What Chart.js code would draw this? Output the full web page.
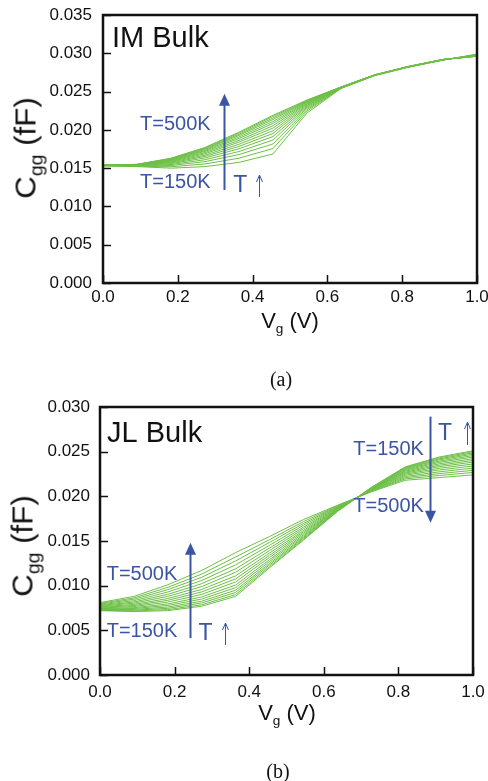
<!DOCTYPE html>
<html>
<head>
<meta charset="utf-8">
<script src="https://cdn.jsdelivr.net/npm/chart.js@4.4.1/dist/chart.umd.min.js"></script>
<style>
  html, body { margin: 0; padding: 0; background: #fff; }
  #page { position: relative; width: 488px; height: 781px; overflow: hidden; font-family: "Liberation Sans", Arial, sans-serif; color: #111; }
  canvas { position: absolute; left: 0; }
  .lbl { position: absolute; white-space: nowrap; line-height: 1; transform: translate(-50%, -50%); }
  .ytitle { font-size: 29px; transform: translate(-50%, -50%) rotate(-90deg) scaleX(1.08); }
  .xtitle { font-size: 22px; }
  .cap { font-family: "Liberation Serif", "Times New Roman", serif; font-size: 20px; }
  sub { font-size: 0.62em; vertical-align: -0.4em; line-height: 0; }
</style>
</head>
<body>
<div id="page">
  <canvas id="im" width="488" height="310" style="top:0"></canvas>
  <canvas id="jl" width="488" height="310" style="top:392px"></canvas>

  <div class="lbl ytitle" style="left:26px; top:148px">C<sub>gg</sub> (fF)</div>
  <div class="lbl xtitle" style="left:290px; top:321px">V<sub>g</sub> (V)</div>
  <div class="lbl cap" style="left:281px; top:379px">(a)</div>

  <div class="lbl ytitle" style="left:23px; top:546px">C<sub>gg</sub> (fF)</div>
  <div class="lbl xtitle" style="left:287px; top:713px">V<sub>g</sub> (V)</div>
  <div class="lbl cap" style="left:278px; top:771px">(b)</div>
</div>

<script>
"use strict";

// Gate voltage sweep points (V)
const vg = [0, 0.0909, 0.1818, 0.2727, 0.3636, 0.4545, 0.5455, 0.6364, 0.7273, 0.8182, 0.9091, 1.0];

// One curve per temperature, 150K .. 500K
const temps = [150, 175, 200, 225, 250, 275, 300, 325, 350, 375, 400, 425, 450, 475, 500];

// IM bulk: Cgg (fF), rows follow temps
const imCgg = [
  [0.01530, 0.01520, 0.01500, 0.01520, 0.01575, 0.01685, 0.02220, 0.02540, 0.02710, 0.02820, 0.02910, 0.02990],
  [0.01531, 0.01524, 0.01518, 0.01555, 0.01630, 0.01756, 0.02244, 0.02543, 0.02711, 0.02821, 0.02911, 0.02986],
  [0.01533, 0.01528, 0.01534, 0.01585, 0.01678, 0.01816, 0.02264, 0.02545, 0.02713, 0.02823, 0.02913, 0.02982],
  [0.01534, 0.01531, 0.01547, 0.01610, 0.01717, 0.01867, 0.02281, 0.02547, 0.02714, 0.02824, 0.02914, 0.02979],
  [0.01535, 0.01534, 0.01559, 0.01633, 0.01753, 0.01912, 0.02297, 0.02549, 0.02715, 0.02825, 0.02915, 0.02977],
  [0.01535, 0.01536, 0.01569, 0.01653, 0.01784, 0.01953, 0.02310, 0.02551, 0.02715, 0.02825, 0.02915, 0.02974],
  [0.01536, 0.01538, 0.01578, 0.01670, 0.01812, 0.01988, 0.02322, 0.02552, 0.02716, 0.02826, 0.02916, 0.02972],
  [0.01537, 0.01540, 0.01587, 0.01688, 0.01840, 0.02023, 0.02334, 0.02553, 0.02717, 0.02827, 0.02917, 0.02970],
  [0.01537, 0.01542, 0.01595, 0.01703, 0.01863, 0.02054, 0.02344, 0.02555, 0.02717, 0.02827, 0.02917, 0.02968],
  [0.01538, 0.01544, 0.01603, 0.01718, 0.01887, 0.02084, 0.02354, 0.02556, 0.02718, 0.02828, 0.02918, 0.02966],
  [0.01538, 0.01545, 0.01609, 0.01730, 0.01907, 0.02109, 0.02363, 0.02557, 0.02718, 0.02828, 0.02918, 0.02965],
  [0.01539, 0.01547, 0.01616, 0.01743, 0.01927, 0.02135, 0.02371, 0.02558, 0.02719, 0.02829, 0.02919, 0.02963],
  [0.01539, 0.01548, 0.01621, 0.01753, 0.01942, 0.02155, 0.02378, 0.02559, 0.02719, 0.02829, 0.02919, 0.02962],
  [0.01540, 0.01549, 0.01626, 0.01763, 0.01958, 0.02175, 0.02385, 0.02559, 0.02720, 0.02830, 0.02920, 0.02961],
  [0.01540, 0.01550, 0.01630, 0.01770, 0.01970, 0.02190, 0.02390, 0.02560, 0.02720, 0.02830, 0.02920, 0.02960],
];

// JL bulk: Cgg (fF), rows follow temps
const jlCgg = [
  [0.00720, 0.00710, 0.00720, 0.00770, 0.00880, 0.01200, 0.01510, 0.01830, 0.02100, 0.02330, 0.02440, 0.02510],
  [0.00724, 0.00717, 0.00732, 0.00786, 0.00900, 0.01214, 0.01519, 0.01833, 0.02098, 0.02324, 0.02431, 0.02499],
  [0.00728, 0.00725, 0.00746, 0.00806, 0.00924, 0.01232, 0.01531, 0.01836, 0.02096, 0.02317, 0.02419, 0.02486],
  [0.00733, 0.00734, 0.00761, 0.00826, 0.00949, 0.01249, 0.01542, 0.01840, 0.02093, 0.02309, 0.02408, 0.02472],
  [0.00738, 0.00744, 0.00778, 0.00850, 0.00978, 0.01270, 0.01556, 0.01844, 0.02090, 0.02300, 0.02394, 0.02456],
  [0.00743, 0.00754, 0.00795, 0.00874, 0.01007, 0.01291, 0.01570, 0.01848, 0.02087, 0.02291, 0.02380, 0.02440],
  [0.00750, 0.00766, 0.00816, 0.00902, 0.01042, 0.01316, 0.01586, 0.01853, 0.02084, 0.02281, 0.02364, 0.02421],
  [0.00756, 0.00778, 0.00836, 0.00930, 0.01076, 0.01340, 0.01602, 0.01858, 0.02080, 0.02270, 0.02348, 0.02402],
  [0.00762, 0.00790, 0.00856, 0.00958, 0.01110, 0.01365, 0.01618, 0.01863, 0.02077, 0.02260, 0.02332, 0.02383],
  [0.00770, 0.00804, 0.00880, 0.00990, 0.01150, 0.01393, 0.01637, 0.01869, 0.02073, 0.02248, 0.02314, 0.02362],
  [0.00777, 0.00817, 0.00903, 0.01022, 0.01189, 0.01421, 0.01655, 0.01874, 0.02069, 0.02236, 0.02295, 0.02340],
  [0.00785, 0.00832, 0.00929, 0.01058, 0.01233, 0.01452, 0.01676, 0.01880, 0.02064, 0.02222, 0.02274, 0.02316],
  [0.00793, 0.00848, 0.00955, 0.01094, 0.01277, 0.01484, 0.01696, 0.01887, 0.02060, 0.02209, 0.02254, 0.02291],
  [0.00801, 0.00863, 0.00981, 0.01130, 0.01321, 0.01515, 0.01717, 0.01893, 0.02055, 0.02195, 0.02233, 0.02267],
  [0.00810, 0.00880, 0.01010, 0.01170, 0.01370, 0.01550, 0.01740, 0.01900, 0.02050, 0.02180, 0.02210, 0.02240],
];

// Axis ranges
const xRange = [0, 1.0];
const xStep = 0.2;
const imYMax = 0.035;
const jlYMax = 0.030;
const yStep = 0.005;

const GREEN = "#6cbf45";
const BLUE = "#3a55a4";
const FONT = "'Liberation Sans', Arial, sans-serif";

// Inward ticks, heavy frame, panel labels and temperature arrows
const framePlugin = {
  id: "frameNotes",
  afterDatasetsDraw(chart, args, opts) {
    const { ctx, chartArea: a, scales: { x, y } } = chart;
    ctx.save();
    ctx.strokeStyle = "#111";
    ctx.lineWidth = 1.5;
    ctx.beginPath();
    x.ticks.forEach(t => {
      const px = Math.round(x.getPixelForValue(t.value)) + 0.5;
      ctx.moveTo(px, a.bottom); ctx.lineTo(px, a.bottom - 8);
    });
    y.ticks.forEach(t => {
      const py = Math.round(y.getPixelForValue(t.value)) + 0.5;
      ctx.moveTo(a.left, py); ctx.lineTo(a.left + 8, py);
    });
    ctx.stroke();
    ctx.lineWidth = 2.5;
    ctx.strokeRect(a.left, a.top, a.right - a.left, a.bottom - a.top);

    // texts
    (opts.texts || []).forEach(t => {
      ctx.fillStyle = t.color || BLUE;
      ctx.font = `${t.size}px ${FONT}`;
      ctx.textAlign = "left";
      ctx.textBaseline = "alphabetic";
      ctx.fillText(t.text, x.getPixelForValue(t.at[0]), y.getPixelForValue(t.at[1]));
    });

    // arrows: [vg, fromCgg, toCgg, heavy]
    (opts.arrows || []).forEach(([v, c0, c1, heavy]) => {
      const px = Math.round(x.getPixelForValue(v)) + 0.5;
      const y0 = y.getPixelForValue(c0), y1 = y.getPixelForValue(c1);
      const dir = y1 < y0 ? -1 : 1;
      ctx.strokeStyle = BLUE; ctx.fillStyle = BLUE;
      if (heavy) {
        ctx.lineWidth = 2;
        ctx.beginPath(); ctx.moveTo(px, y0); ctx.lineTo(px, y1 - dir * 10); ctx.stroke();
        ctx.beginPath();
        ctx.moveTo(px, y1); ctx.lineTo(px - 5.5, y1 - dir * 12); ctx.lineTo(px + 5.5, y1 - dir * 12);
        ctx.closePath(); ctx.fill();
      } else {
        ctx.lineWidth = 1;
        ctx.beginPath();
        ctx.moveTo(px, y0); ctx.lineTo(px, y1);
        ctx.moveTo(px - 3, y1 - dir * 7); ctx.lineTo(px, y1); ctx.lineTo(px + 3, y1 - dir * 7);
        ctx.stroke();
      }
    });
    ctx.restore();
  }
};

function makeChart(id, rows, yMax, pad, notes) {
  const datasets = rows.map((vals, i) => ({
    label: temps[i] + "K",
    data: vals.map((c, j) => ({ x: vg[j], y: c })),
    borderColor: GREEN,
    borderWidth: 1,
    pointRadius: 0,
    tension: 0,
    fill: false,
  }));
  return new Chart(document.getElementById(id), {
    type: "line",
    data: { datasets },
    plugins: [framePlugin],
    options: {
      responsive: false,
      animation: false,
      layout: { padding: { top: 15, right: pad.right, left: 0, bottom: 0 } },
      plugins: {
        legend: { display: false },
        tooltip: { enabled: false },
        frameNotes: notes,
      },
      scales: {
        x: {
          type: "linear",
          min: xRange[0], max: xRange[1],
          grid: { display: false, drawTicks: false },
          border: { display: false },
          ticks: {
            stepSize: xStep, padding: pad.xLabel, color: "#111",
            font: { family: FONT, size: 17 },
            callback: v => v.toFixed(1),
          },
          afterFit: s => { s.height = 27; s.paddingLeft = 0; s.paddingRight = 0; },
        },
        y: {
          min: 0, max: yMax,
          grid: { display: false, drawTicks: false },
          border: { display: false },
          ticks: {
            stepSize: yStep, padding: pad.yLabel, color: "#111",
            font: { family: FONT, size: 17 },
            callback: v => v.toFixed(3),
          },
          afterFit: s => { s.width = pad.left; s.paddingTop = 0; s.paddingBottom = 0; },
        },
      },
    },
  });
}

makeChart("im", imCgg, imYMax, { left: 103, right: 11, xLabel: 4, yLabel: 11 }, {
  texts: [
    { text: "IM Bulk", at: [0.024, 0.0308], size: 29, color: "#111" },
    { text: "T=500K", at: [0.099, 0.0200], size: 20 },
    { text: "T=150K", at: [0.099, 0.0124], size: 20 },
    { text: "T", at: [0.348, 0.0119], size: 23 },
  ],
  arrows: [
    [0.324, 0.01215, 0.0247, true],
    [0.418, 0.01123, 0.0141, false],
  ],
});

makeChart("jl", jlCgg, jlYMax, { left: 100, right: 15, xLabel: 7, yLabel: 10 }, {
  texts: [
    { text: "JL Bulk", at: [0.019, 0.0261], size: 29, color: "#111" },
    { text: "T=500K", at: [0.018, 0.01063], size: 20 },
    { text: "T=150K", at: [0.018, 0.00425], size: 20 },
    { text: "T", at: [0.264, 0.00392], size: 23 },
    { text: "T=150K", at: [0.679, 0.02463], size: 20 },
    { text: "T=500K", at: [0.679, 0.01825], size: 20 },
    { text: "T", at: [0.906, 0.0263], size: 23 },
  ],
  arrows: [
    [0.241, 0.00414, 0.01481, true],
    [0.335, 0.00336, 0.00582, false],
    [0.885, 0.02892, 0.01705, true],
    [0.983, 0.02575, 0.02831, false],
  ],
});
</script>
</body>
</html>
